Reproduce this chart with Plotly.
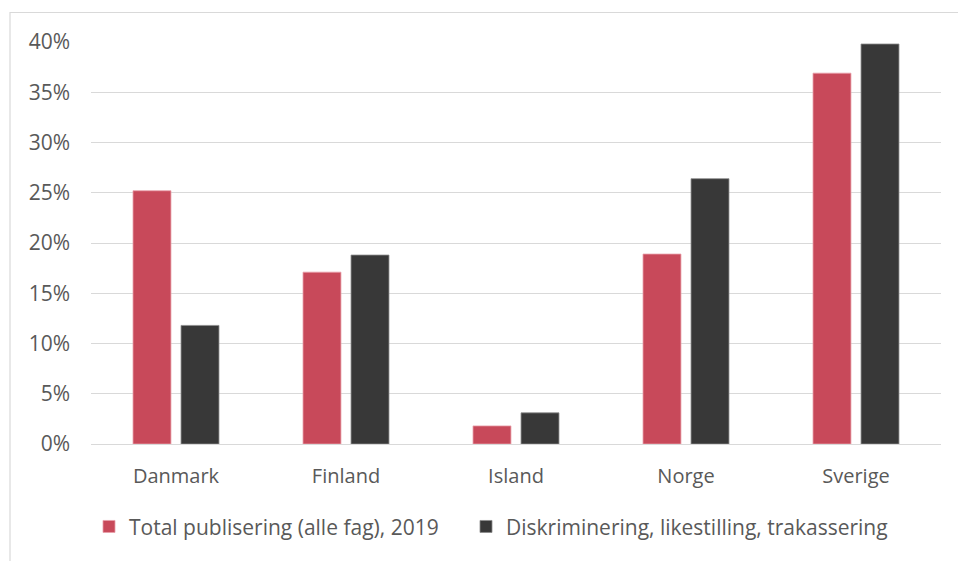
import plotly.graph_objects as go

countries = ["Danmark", "Finland", "Island", "Norge", "Sverige"]
total_pub = [25.2, 17.1, 1.8, 18.9, 36.9]
diskr = [11.8, 18.8, 3.1, 26.4, 39.8]
series_names = ["Total publisering (alle fag), 2019", "Diskriminering, likestilling, trakassering"]
y_ticks = [0, 5, 10, 15, 20, 25, 30, 35, 40]
y_labels = [f"{v}%" for v in y_ticks]

RED = "#C8495A"
DARK = "#383838"
FONT = "Open Sans"
TXT = "#595959"

fig = go.Figure()
fig.add_trace(go.Bar(x=countries, y=total_pub, name=series_names[0], legend="legend",
                     marker=dict(color=RED, line=dict(color="#E8A0AA", width=0.8))))
fig.add_trace(go.Bar(x=countries, y=diskr, name=series_names[1], legend="legend2",
                     marker=dict(color=DARK, line=dict(color="#8A8A8A", width=0.8))))

leg_common = dict(orientation="h", yanchor="middle", y=-0.206, xanchor="left",
                  font=dict(family=FONT, size=21, color=TXT), itemwidth=30,
                  bgcolor="rgba(0,0,0,0)")

fig.update_layout(
    width=958, height=561,
    margin=dict(l=91, r=17, t=42, b=117),
    paper_bgcolor="white", plot_bgcolor="white",
    barmode="group", bargap=0.435, bargroupgap=0.21,
    font=dict(family=FONT, color=TXT, size=20),
    showlegend=True,
    legend=dict(x=(89 - 91) / 850, **leg_common),
    legend2=dict(x=(466 - 91) / 850, **leg_common),
    xaxis=dict(showgrid=False, showline=False, ticks="", ticklabelstandoff=18,
               tickfont=dict(family=FONT, size=20, color=TXT)),
    yaxis=dict(range=[0, 40], tickvals=y_ticks, ticktext=y_labels,
               showgrid=True, gridcolor="#D9D9D9", gridwidth=1.2,
               zeroline=True, zerolinecolor="#D9D9D9", zerolinewidth=1.2,
               showline=False, ticks="", ticklabelstandoff=20,
               tickfont=dict(family=FONT, size=21, color=TXT)),
    shapes=[dict(type="rect", xref="paper", yref="paper",
                 x0=(10 - 91) / 850, x1=1.5, y0=-1.0, y1=(444 - 12.5) / 402,
                 line=dict(color="#D9D9D9", width=1.2), fillcolor="rgba(0,0,0,0)",
                 layer="below")],
)

fig.write_html("out.html", config={"displayModeBar": False},
               post_script="document.body.style.margin='0';")
